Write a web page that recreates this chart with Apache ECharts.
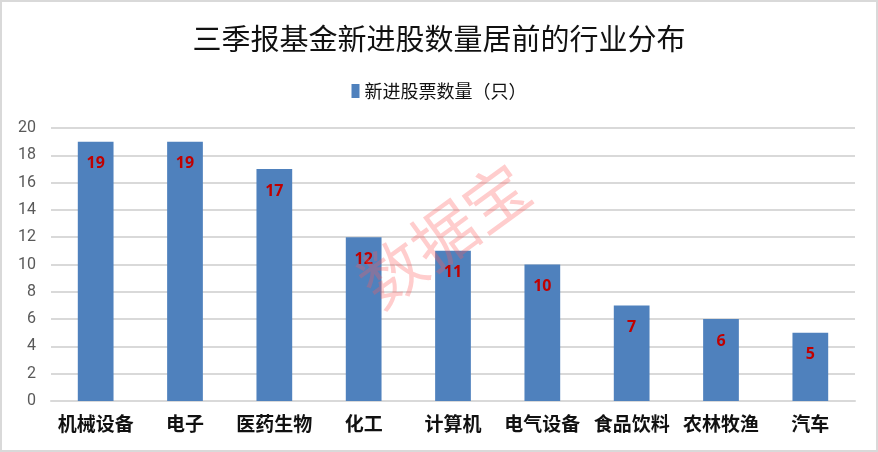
<!DOCTYPE html>
<html><head><meta charset="utf-8">
<script src="https://cdn.jsdelivr.net/npm/echarts@6/dist/echarts.min.js"></script>
<style>html,body{margin:0;padding:0;background:#fff}#c{width:878px;height:452px;box-sizing:border-box;border:2px solid #d9d9d9}</style>
</head><body><div id="c"></div>
<script>
var categories = ['机械设备','电子','医药生物','化工','计算机','电气设备','食品饮料','农林牧渔','汽车'];
var values = [19,19,17,12,11,10,7,6,5];
var seriesName = '新进股票数量（只）';
var titleText = '三季报基金新进股数量居前的行业分布';
var watermark = '数据宝';
var chart = echarts.init(document.getElementById('c'));
chart.setOption({
  animation:false,
  title:{text:titleText,left:'center',top:17,textStyle:{fontFamily:'Noto Sans CJK SC',fontSize:29,fontWeight:'normal',color:'#111'}},
  legend:{top:75,left:'center',itemWidth:8,itemHeight:14,itemGap:6,icon:'rect',textStyle:{fontFamily:'Noto Sans CJK SC',fontSize:18,color:'#111'},data:[seriesName]},
  grid:{left:49,right:21,top:126,bottom:49},
  xAxis:{type:'category',data:categories,axisTick:{show:false},axisLine:{lineStyle:{color:'#d9d9d9',width:2}},
    axisLabel:{interval:0,margin:13,fontFamily:'Noto Sans CJK SC',fontSize:19,fontWeight:'bold',color:'#111'}},
  yAxis:{type:'value',min:0,max:20,interval:2,axisLine:{show:false},axisTick:{show:false},
    splitLine:{lineStyle:{color:'#d9d9d9',width:2}},
    axisLabel:{margin:15,fontFamily:'Roboto',fontSize:16,color:'#595959'}},
  series:[{name:seriesName,type:'bar',data:values,barWidth:'40%',itemStyle:{color:'#4f81bd'},
    label:{show:true,position:'insideTop',distance:14,color:'#c00000',fontWeight:'bold',fontSize:16,fontFamily:'Noto Sans'}}],
  graphic:[{type:'text',x:442,y:233,rotation:Math.PI*0.2,z:100,
    style:{text:watermark,fontSize:64,fontFamily:'Noto Sans CJK SC',align:'center',verticalAlign:'middle',fill:'rgba(255,90,90,0.3)'}}]
});
</script></body></html>
